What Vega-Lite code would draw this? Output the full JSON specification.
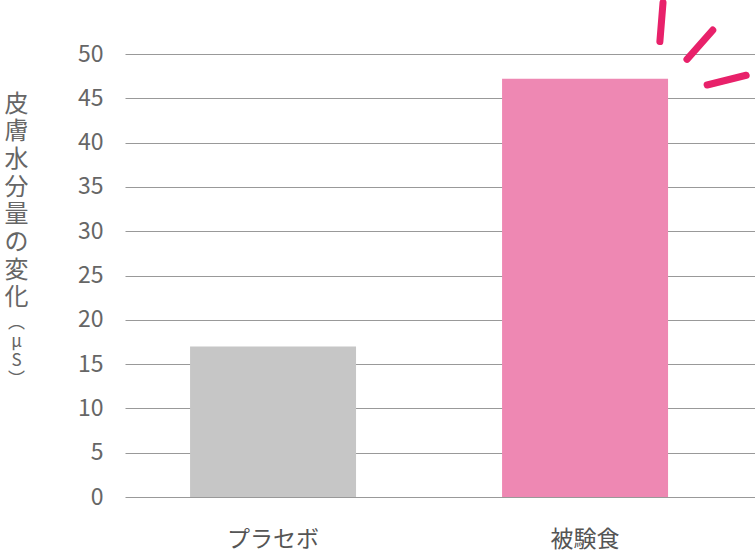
{
  "$schema": "https://vega.github.io/schema/vega-lite/v6.json",
  "autosize": "none",
  "width": 630,
  "height": 443,
  "padding": {"left": 125, "top": 54, "right": 0, "bottom": 60},
  "background": "white",
  "config": {
    "view": {"stroke": null},
    "font": "Noto Sans CJK JP"
  },
  "layer": [
    {
      "data": {"values": [
        {"group": "プラセボ", "value": 17.0},
        {"group": "被験食", "value": 47.2}
      ]},
      "mark": {"type": "bar"},
      "encoding": {
        "x": {
          "field": "group", "type": "nominal", "sort": null,
          "scale": {"paddingInner": 0.468, "paddingOuter": 0.2436, "align": 0.428},
          "axis": {"title": null, "labelAngle": 0, "labelFontSize": 23, "labelColor": "#555555",
                   "labelPadding": 31, "ticks": false, "domain": false, "labelFont": "Noto Sans CJK JP"}
        },
        "y": {
          "field": "value", "type": "quantitative",
          "scale": {"domain": [0, 50], "nice": false},
          "axis": {
            "values": [0, 5, 10, 15, 20, 25, 30, 35, 40, 45, 50],
            "grid": true, "gridColor": "#999999", "gridWidth": 1.2, "gridOpacity": 1,
            "domain": false, "ticks": false,
            "labelFontSize": 23, "labelColor": "#666666", "labelPadding": 22,
            "labelFont": "Noto Sans CJK JP",
            "title": ["皮", "膚", "水", "分", "量", "の", "変", "化"],
            "titleAngle": 0, "titleAlign": "center", "titleBaseline": "top",
            "titleX": -109, "titleY": 38, "titleFontSize": 24, "titleLineHeight": 27.7,
            "titleColor": "#666666", "titleFontWeight": "normal", "titleFont": "Noto Sans CJK JP"
          }
        },
        "color": {
          "field": "group", "type": "nominal", "legend": null,
          "scale": {"domain": ["プラセボ", "被験食"], "range": ["#c6c6c6", "#ee88b3"]}
        }
      }
    },
    {
      "data": {"values": [
        {"px": 85.4, "py": 55.8, "px2": 84.9, "py2": 51.4},
        {"px": 93.3, "py": 52.7, "px2": 89.2, "py2": 49.4},
        {"px": 98.6, "py": 47.6, "px2": 92.4, "py2": 46.5}
      ]},
      "mark": {"type": "rule", "color": "#e8216a", "strokeWidth": 7, "strokeCap": "round", "clip": false},
      "encoding": {
        "x": {"field": "px", "type": "quantitative", "scale": {"domain": [0, 100], "nice": false}, "axis": null},
        "x2": {"field": "px2"},
        "y": {
          "field": "py", "type": "quantitative",
          "axis": {
            "orient": "left", "labels": false, "grid": false, "ticks": false, "domain": false,
            "title": ["︵", "μ", "S", "︶"],
            "titleAngle": 0, "titleAlign": "center", "titleBaseline": "top",
            "titleX": -109, "titleY": 260, "titleFontSize": 17, "titleLineHeight": 19,
            "titleColor": "#666666", "titleFontWeight": "normal", "titleFont": "Noto Sans CJK JP"
          }
        },
        "y2": {"field": "py2"}
      }
    }
  ],
  "resolve": {"scale": {"x": "independent", "color": "independent"}, "axis": {"x": "independent", "y": "independent"}}
}
